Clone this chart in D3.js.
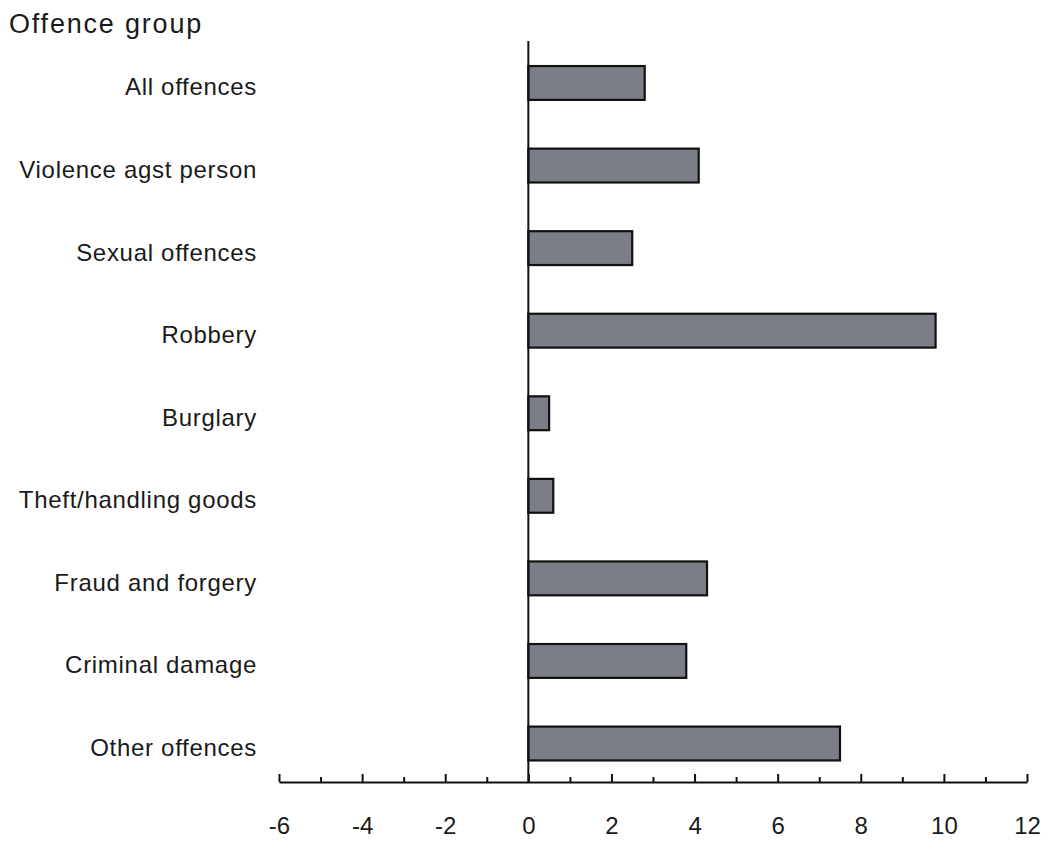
<!DOCTYPE html>
<html>
<head>
<meta charset="utf-8">
<script src="https://cdn.jsdelivr.net/npm/d3@7"></script>
<style>
  html, body { margin: 0; padding: 0; background: #fff; }
  svg { display: block; }
  text { font-family: "Liberation Sans", Arial, Helvetica, sans-serif; fill: #1a1a1a; }
</style>
</head>
<body>
<svg id="chart" width="1047" height="843"></svg>
<script>
const categories = [
  "All offences",
  "Violence agst person",
  "Sexual offences",
  "Robbery",
  "Burglary",
  "Theft/handling goods",
  "Fraud and forgery",
  "Criminal damage",
  "Other offences"
];
const values = [2.8, 4.1, 2.5, 9.8, 0.5, 0.6, 4.3, 3.8, 7.5];
const majorTicks = [-6, -4, -2, 0, 2, 4, 6, 8, 10, 12];
const minorTicks = [-5, -3, -1, 1, 3, 5, 7, 9, 11];
const axisTitle = "Offence group";

const svg = d3.select("#chart");
const axisY = 782;

const x = d3.scaleLinear().domain([-6, 12]).range([279, 1027]);
const y = d3.scaleBand().domain(categories).range([41.7, 784.8])
  .paddingInner(0.59).paddingOuter(0.295);

// bars
svg.append("g").selectAll("rect").data(values).join("rect")
  .attr("x", d => Math.min(x(0), x(d)))
  .attr("y", (d, i) => y(categories[i]))
  .attr("width", d => Math.abs(x(d) - x(0)))
  .attr("height", y.bandwidth())
  .attr("fill", "#7b7e86")
  .attr("stroke", "#111")
  .attr("stroke-width", 2.2);

// zero line
svg.append("line")
  .attr("x1", x(0)).attr("x2", x(0))
  .attr("y1", 41).attr("y2", axisY)
  .attr("stroke", "#111").attr("stroke-width", 2);

// category labels via y axis
const yAxis = svg.append("g")
  .attr("transform", `translate(${x(0)},0)`)
  .call(d3.axisLeft(y).tickSize(0).tickPadding(x(0) - 257));
yAxis.select(".domain").remove();
yAxis.selectAll("text")
  .attr("dy", "0.52em")
  .style("font-size", "24px")
  .style("letter-spacing", "0.7px")
  .style("font-family", '"Liberation Sans", Arial, sans-serif')
  .attr("fill", "#1a1a1a");

// x axis major
const xAxis = svg.append("g")
  .attr("transform", `translate(0,${axisY})`)
  .call(d3.axisBottom(x).tickValues(majorTicks).tickSize(-8).tickSizeOuter(0).tickPadding(35).tickFormat(d3.format("d")));
xAxis.select(".domain").attr("stroke", "#111").attr("stroke-width", 2);
xAxis.selectAll(".tick line").attr("stroke", "#111").attr("stroke-width", 2);
xAxis.selectAll("text")
  .style("font-size", "24px")
  .style("font-family", '"Liberation Sans", Arial, sans-serif')
  .attr("fill", "#1a1a1a")
  .text(d => d < 0 ? "-" + Math.abs(d) : String(d));

// x axis minor
const xMinor = svg.append("g")
  .attr("transform", `translate(0,${axisY})`)
  .call(d3.axisBottom(x).tickValues(minorTicks).tickSize(-5).tickSizeOuter(0).tickFormat(""));
xMinor.select(".domain").remove();
xMinor.selectAll(".tick line").attr("stroke", "#111").attr("stroke-width", 2);

// title
svg.append("text")
  .attr("x", 9).attr("y", 33)
  .style("font-size", "27px")
  .style("letter-spacing", "1.8px")
  .text(axisTitle);
</script>
</body>
</html>
